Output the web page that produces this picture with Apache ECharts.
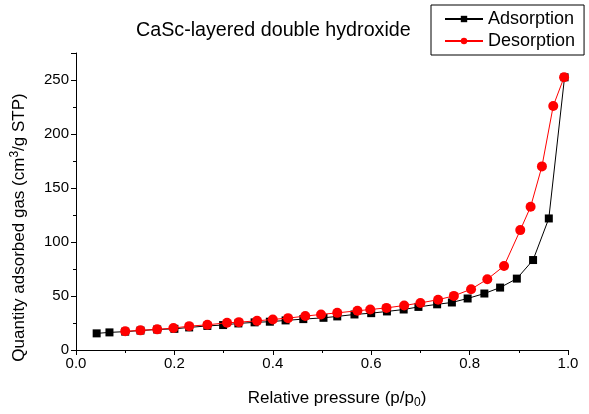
<!DOCTYPE html>
<html>
<head>
<meta charset="utf-8">
<script src="https://cdn.jsdelivr.net/npm/echarts@6/dist/echarts.min.js"></script>
<style>
  html, body { margin: 0; padding: 0; background: #fff; }
  #chart { width: 589px; height: 414px; }
</style>
</head>
<body>
<div id="chart"></div>
<script>
// N2 isotherm of the CaSc layered double hydroxide
const adsP = [0.042, 0.068, 0.100, 0.131, 0.165, 0.200, 0.230, 0.267, 0.299, 0.330, 0.363, 0.394,
              0.426, 0.462, 0.503, 0.531, 0.566, 0.600, 0.632, 0.666, 0.696, 0.734, 0.764, 0.796,
              0.830, 0.862, 0.896, 0.929, 0.961, 0.993];
const adsQ = [15.4, 16.3, 17.0, 18.0, 19.0, 19.6, 20.9, 22.3, 23.1, 24.6, 25.6, 26.2,
              27.4, 28.6, 29.8, 31.1, 32.9, 34.1, 35.7, 37.5, 39.9, 42.3, 44.0, 47.7,
              52.3, 57.8, 66.1, 83.3, 121.8, 252.5];

const desP = [0.992, 0.970, 0.947, 0.924, 0.903, 0.870, 0.836, 0.803, 0.768, 0.736, 0.700, 0.667,
              0.631, 0.598, 0.572, 0.531, 0.498, 0.466, 0.431, 0.400, 0.368, 0.331, 0.307, 0.267,
              0.230, 0.198, 0.165, 0.131, 0.100];
const desQ = [252.5, 226.0, 170.0, 132.6, 111.0, 77.8, 65.5, 56.3, 50.1, 46.6, 43.6, 41.2,
              39.0, 37.5, 36.3, 34.4, 32.9, 31.4, 29.5, 28.3, 27.0, 25.8, 25.2, 23.3,
              22.1, 20.3, 19.1, 18.2, 17.3];

const xTicks = { min: 0, max: 1, step: 0.2 };
const yTicks = { min: 0, max: 275, step: 50 };

const pairs = (xs, ys) => xs.map((x, i) => [x, ys[i]]);
const font = 'Liberation Sans, Arial, sans-serif';

const chart = echarts.init(document.getElementById('chart'), null, { renderer: 'canvas' });
chart.setOption({
  animation: false,
  backgroundColor: '#fff',
  textStyle: { fontFamily: font },
  title: {
    text: 'CaSc-layered double hydroxide',
    left: 131, top: 16,
    textStyle: { fontFamily: font, fontSize: 19.7, fontWeight: 'normal', color: '#000' }
  },
  legend: {
    orient: 'vertical',
    left: 431, top: 5,
    padding: [5, 9, 5, 13],
    itemGap: 4,
    itemWidth: 38, itemHeight: 8,
    borderColor: '#000', borderWidth: 1, borderRadius: 0,
    textStyle: { fontFamily: font, fontSize: 18, color: '#000' },
    data: ['Adsorption', 'Desorption']
  },
  grid: { left: 76, right: 21, top: 53, bottom: 63 },
  xAxis: {
    type: 'value',
    min: xTicks.min, max: xTicks.max, interval: xTicks.step,
    name: 'Relative pressure (p/p{sub|0})',
    nameLocation: 'middle', nameGap: 37,
    nameTextStyle: {
      fontFamily: font, fontSize: 17, color: '#000',
      padding: [0, 0, 0, 30],
      rich: { sub: { fontSize: 12, verticalAlign: 'bottom', padding: [10, 0, 0, 0], fontFamily: font, color: '#000' } }
    },
    axisLine: { lineStyle: { color: '#000', width: 1 } },
    axisTick: { length: 5, lineStyle: { color: '#000' } },
    minorTick: { show: true, splitNumber: 2, length: 3, lineStyle: { color: '#000' } },
    splitLine: { show: false },
    axisLabel: { fontSize: 15, color: '#000', margin: 6, formatter: v => v.toFixed(1) }
  },
  yAxis: {
    type: 'value',
    min: yTicks.min, max: yTicks.max, interval: yTicks.step,
    name: 'Quantity adsorbed gas (cm{sup|3}/g STP)',
    nameLocation: 'middle', nameGap: 46, nameRotate: 90,
    nameTextStyle: {
      fontFamily: font, fontSize: 17, color: '#000',
      padding: [0, 52, 0, 0],
      rich: { sup: { fontSize: 12, verticalAlign: 'top', padding: [0, 0, 9, 0], fontFamily: font, color: '#000' } }
    },
    axisLine: { show: true, lineStyle: { color: '#000', width: 1 } },
    axisTick: { show: true, length: 5, lineStyle: { color: '#000' } },
    minorTick: { show: true, splitNumber: 2, length: 3, lineStyle: { color: '#000' } },
    splitLine: { show: false },
    axisLabel: { fontSize: 15, color: '#000', margin: 7, showMaxLabel: false }
  },
  series: [
    {
      name: 'Adsorption', type: 'line',
      data: pairs(adsP, adsQ),
      symbol: 'rect', symbolSize: 8,
      itemStyle: { color: '#000' },
      lineStyle: { color: '#000', width: 1 },
      z: 2
    },
    {
      name: 'Desorption', type: 'line',
      data: pairs(desP, desQ),
      symbol: 'circle', symbolSize: 10,
      itemStyle: { color: '#ff0000' },
      lineStyle: { color: '#ff0000', width: 1 },
      z: 3
    }
  ]
});
</script>
</body>
</html>
